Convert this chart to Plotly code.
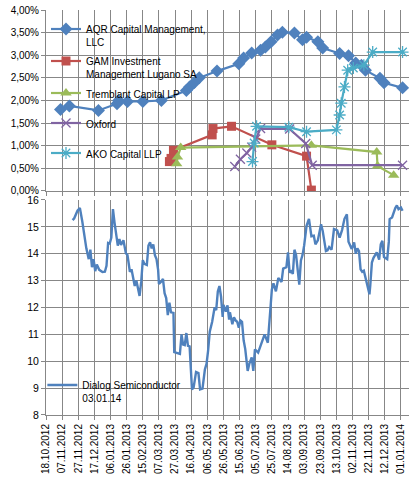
import plotly.graph_objects as go
from plotly.subplots import make_subplots

# holdings in % of shares
aqr_dates = ["2012-11-05", "2012-11-16", "2012-12-22", "2013-01-14", "2013-01-16", "2013-01-27",
             "2013-02-15", "2013-03-10", "2013-04-10", "2013-04-14", "2013-04-20", "2013-04-26",
             "2013-05-18", "2013-06-14", "2013-06-20", "2013-06-30", "2013-07-11", "2013-07-17",
             "2013-07-24", "2013-08-01", "2013-08-07", "2013-08-22", "2013-09-01", "2013-09-06",
             "2013-09-20", "2013-09-26", "2013-10-17", "2013-10-28", "2013-11-06", "2013-11-13",
             "2013-11-18", "2013-12-06", "2013-12-11", "2014-01-03"]
aqr_pct = [1.80, 1.88, 1.78, 1.93, 2.00, 1.98, 1.98, 2.00, 2.22, 2.30, 2.40, 2.50,
           2.65, 2.81, 2.94, 3.05, 3.11, 3.18, 3.30, 3.45, 3.51, 3.49, 3.34, 3.40,
           3.30, 3.16, 3.04, 2.99, 2.83, 2.78, 2.67, 2.49, 2.39, 2.28]

gam_dates = ["2013-03-20", "2013-03-22", "2013-03-25", "2013-05-12", "2013-05-13",
             "2013-06-05", "2013-07-25", "2013-09-06", "2013-09-12"]
gam_pct = [0.65, 0.72, 0.90, 1.24, 1.38, 1.43, 1.02, 0.77, 0.02]

tremblant_dates = ["2013-03-29", "2013-03-30", "2013-04-03", "2013-09-12",
                   "2013-12-02", "2013-12-03", "2013-12-23"]
tremblant_pct = [0.60, 0.75, 0.96, 1.01, 0.86, 0.55, 0.35]

oxford_dates = ["2013-06-09", "2013-06-16", "2013-06-24", "2013-06-30", "2013-07-05",
                "2013-07-11", "2013-08-16", "2013-09-05", "2013-09-13", "2014-01-03"]
oxford_pct = [0.54, 0.70, 0.84, 0.97, 1.15, 1.38, 1.37, 1.05, 0.57, 0.57]

ako_dates = ["2013-07-01", "2013-07-03", "2013-07-06", "2013-08-15", "2013-09-06",
             "2013-10-13", "2013-10-17", "2013-10-19", "2013-10-23", "2013-10-27",
             "2013-11-03", "2013-11-16", "2013-11-27", "2014-01-03"]
ako_pct = [0.65, 1.06, 1.43, 1.41, 1.31, 1.35, 1.68, 1.94, 2.30, 2.67, 2.72, 2.78, 3.07, 3.07]

# share price
dialog_dates = [
    "2012-11-20", "2012-11-22", "2012-11-26", "2012-11-29", "2012-12-02", "2012-12-05",
    "2012-12-07", "2012-12-10", "2012-12-12", "2012-12-14", "2012-12-16", "2012-12-18",
    "2012-12-20", "2012-12-23", "2012-12-27", "2012-12-30", "2013-01-01", "2013-01-03",
    "2013-01-05", "2013-01-07", "2013-01-09", "2013-01-11", "2013-01-13", "2013-01-15",
    "2013-01-17", "2013-01-19", "2013-01-22", "2013-01-25", "2013-01-27", "2013-01-30",
    "2013-02-01", "2013-02-03", "2013-02-05", "2013-02-07", "2013-02-09", "2013-02-11",
    "2013-02-13", "2013-02-15", "2013-02-17", "2013-02-20", "2013-02-22", "2013-02-24",
    "2013-02-26", "2013-02-28", "2013-03-02", "2013-03-04", "2013-03-06", "2013-03-07",
    "2013-03-10", "2013-03-12", "2013-03-14", "2013-03-16", "2013-03-18", "2013-03-20",
    "2013-03-22", "2013-03-25", "2013-03-26", "2013-03-29", "2013-04-02", "2013-04-04",
    "2013-04-06", "2013-04-08", "2013-04-10", "2013-04-12", "2013-04-14", "2013-04-17",
    "2013-04-19", "2013-04-22", "2013-04-25", "2013-04-27", "2013-04-30", "2013-05-03",
    "2013-05-05", "2013-05-07", "2013-05-09", "2013-05-12", "2013-05-15", "2013-05-17",
    "2013-05-19", "2013-05-21", "2013-05-23", "2013-05-25", "2013-05-26", "2013-05-29",
    "2013-05-31", "2013-06-02", "2013-06-03", "2013-06-06", "2013-06-08", "2013-06-10",
    "2013-06-12", "2013-06-14", "2013-06-16", "2013-06-18", "2013-06-20", "2013-06-22",
    "2013-06-25", "2013-06-27", "2013-06-30", "2013-07-02", "2013-07-04", "2013-07-08",
    "2013-07-10", "2013-07-16", "2013-07-20", "2013-07-22", "2013-07-25", "2013-07-27",
    "2013-07-30", "2013-08-02", "2013-08-06", "2013-08-08", "2013-08-12", "2013-08-14",
    "2013-08-16", "2013-08-18", "2013-08-20", "2013-08-22", "2013-08-24", "2013-08-28",
    "2013-08-30", "2013-09-01", "2013-09-03", "2013-09-06", "2013-09-09", "2013-09-12",
    "2013-09-15", "2013-09-17", "2013-09-20", "2013-09-24", "2013-09-26", "2013-09-30",
    "2013-10-02", "2013-10-04", "2013-10-07", "2013-10-10", "2013-10-14", "2013-10-17",
    "2013-10-20", "2013-10-23", "2013-10-26", "2013-10-28", "2013-11-01", "2013-11-04",
    "2013-11-06", "2013-11-08", "2013-11-10", "2013-11-12", "2013-11-14", "2013-11-16",
    "2013-11-18", "2013-11-20", "2013-11-23", "2013-11-24", "2013-11-26", "2013-11-28",
    "2013-12-02", "2013-12-05", "2013-12-07", "2013-12-09", "2013-12-11", "2013-12-15",
    "2013-12-17", "2013-12-18", "2013-12-21", "2013-12-25", "2013-12-27", "2013-12-29",
    "2014-01-01", "2014-01-03"]
dialog_price = [
    15.25, 15.32, 15.60, 15.70, 15.20, 14.50,
    14.20, 13.80, 14.15, 13.50, 13.80, 13.35,
    13.60, 13.40, 13.32, 13.33, 13.55, 14.40,
    14.38, 14.60, 15.66, 15.15, 14.60, 14.30,
    14.55, 14.33, 14.50, 14.02, 13.95, 13.33,
    13.42, 13.15, 12.80, 13.00, 12.70, 12.43,
    12.95, 13.76, 13.62, 13.58, 14.30, 14.43,
    14.20, 14.35, 13.95, 13.80, 13.40, 12.88,
    12.97, 13.06, 12.53, 12.35, 11.72, 12.18,
    11.82, 11.80, 10.34, 10.30, 10.27, 11.00,
    10.62, 10.60, 11.05, 10.57, 10.55, 8.95,
    9.02, 9.60, 9.56, 8.95, 8.98, 9.70,
    9.90, 10.40, 11.10, 11.47, 12.00, 11.90,
    12.60, 12.80, 12.40, 11.65, 12.10, 11.85,
    12.08, 11.55, 11.82, 11.38, 11.64, 11.52,
    11.47, 11.25, 11.52, 11.47, 10.78, 10.45,
    9.64, 9.90, 10.14, 9.64, 10.44, 10.32,
    10.51, 11.00, 10.69, 11.45, 12.67, 12.90,
    12.60, 13.10, 12.95, 13.45, 13.50, 14.05,
    13.30, 13.35, 13.25, 14.15, 13.95, 12.85,
    13.75, 13.95, 14.30, 15.04, 15.30, 14.65,
    14.67, 14.35, 14.50, 15.10, 14.85, 14.10,
    14.13, 14.25, 14.15, 14.92, 14.87, 14.60,
    14.88, 15.30, 15.47, 14.45, 14.18, 14.42,
    14.00, 14.20, 14.10, 13.42, 13.33, 13.37,
    13.13, 12.85, 12.49, 12.82, 13.67, 13.85,
    14.05, 13.78, 14.35, 14.48, 13.88, 13.80,
    14.45, 15.29, 15.35, 15.70, 15.80, 15.66,
    15.72, 15.60]

pct_ticks = [0, 0.5, 1, 1.5, 2, 2.5, 3, 3.5, 4]
pct_labels = ["0,00%", "0,50%", "1,00%", "1,50%", "2,00%", "2,50%", "3,00%", "3,50%", "4,00%"]
price_ticks = [8, 9, 10, 11, 12, 13, 14, 15, 16]

GRID = "#878787"
FONT = "Liberation Sans"

fig = make_subplots(rows=2, cols=1, shared_xaxes=True, vertical_spacing=0.02)

holders = [
    ("AQR Capital Management,<br>LLC", aqr_dates, aqr_pct, "#4F81BD", "diamond", 10),
    ("GAM Investment<br>Management Lugano SA", gam_dates, gam_pct, "#C0504D", "square", 9),
    ("Tremblant Capital LP", tremblant_dates, tremblant_pct, "#9BBB59", "triangle-up", 10),
    ("Oxford", oxford_dates, oxford_pct, "#8064A2", "x-thin", 9),
    ("AKO Capital LLP", ako_dates, ako_pct, "#4BACC6", "asterisk", 10),
]
legend_names = ["legend", "legend2", "legend3", "legend4", "legend5"]

for (name, xs, ys, col, sym, size), lg in zip(holders, legend_names):
    marker = dict(symbol=sym, size=size, color=col)
    if sym in ("x-thin", "asterisk"):
        marker["line"] = dict(color=col, width=1.3)
    fig.add_trace(go.Scatter(x=xs, y=ys, name=name, mode="lines+markers",
                             line=dict(color=col, width=2.2), marker=marker,
                             legend=lg, showlegend=True), row=1, col=1)

fig.add_trace(go.Scatter(x=dialog_dates, y=dialog_price, name="Dialog Semiconductor<br>03.01.14",
                         mode="lines", line=dict(color="#4F81BD", width=2.4),
                         legend="legend6", showlegend=True), row=2, col=1)


def py(page_y):
    # page pixel -> paper coordinate (plot area 10..415)
    return 1 - (page_y - 10) / 405.0


def legend_at(x, top):
    return dict(x=x, y=py(top), xanchor="left", yanchor="top", valign="top",
                bgcolor="rgba(0,0,0,0)", font=dict(family=FONT, size=10, color="#000"),
                itemwidth=30, tracegroupgap=0, visible=True)


fig.update_layout(
    width=414, height=483,
    margin=dict(l=46, r=5, t=10, b=68, autoexpand=False),
    paper_bgcolor="white", plot_bgcolor="white",
    separators=",.",
    showlegend=True,
    font=dict(family=FONT, size=10, color="#000"),
    legend=legend_at(0.0, 16),
    legend2=legend_at(0.0, 48),
    legend3=legend_at(0.0, 80),
    legend4=legend_at(0.0, 110),
    legend5=legend_at(0.0, 140),
    legend6=legend_at(-0.01, 372),
)

xcommon = dict(type="date", range=["2012-10-18", "2014-01-11"],
               tick0="2012-10-18", dtick=20 * 86400000, automargin=False,
               showgrid=True, gridcolor=GRID, gridwidth=1,
               showline=True, linecolor=GRID, linewidth=1,
               ticks="outside", ticklen=4, tickcolor=GRID)

fig.update_xaxes(**xcommon, showticklabels=False, row=1, col=1)
fig.update_xaxes(**xcommon, showticklabels=True, tickformat="%d.%m.%Y", tickangle=-90,
                 tickfont=dict(family=FONT, size=10, color="#000"), row=2, col=1)

fig.update_yaxes(range=[0, 4], tickvals=pct_ticks, ticktext=pct_labels, automargin=False,
                 showgrid=True, gridcolor=GRID, showline=True, linecolor=GRID,
                 ticks="outside", ticklen=4, tickcolor=GRID, zeroline=False,
                 tickfont=dict(family=FONT, size=10, color="#000"),
                 domain=[0.5531, 1], row=1, col=1)
fig.update_yaxes(range=[8, 16], tickvals=price_ticks, automargin=False,
                 showgrid=True, gridcolor=GRID, showline=True, linecolor=GRID,
                 ticks="outside", ticklen=4, tickcolor=GRID, zeroline=False,
                 tickfont=dict(family=FONT, size=10.5, color="#000"),
                 domain=[0, 0.5309], row=2, col=1)

# page body has a default 8px margin; drop it so the figure sits at the window corner
fig.write_html("out.html", config={"displayModeBar": False},
               post_script="document.body.style.margin='0px';")
